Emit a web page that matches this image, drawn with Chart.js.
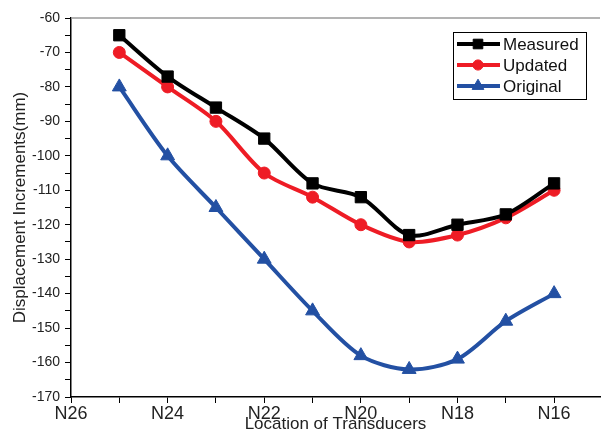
<!DOCTYPE html>
<html>
<head>
<meta charset="utf-8">
<script src="https://cdn.jsdelivr.net/npm/chart.js@4"></script>
<style>
  html, body { margin: 0; padding: 0; background: #fff; }
  #wrap { width: 609px; height: 433px; position: relative; }
</style>
</head>
<body>
<div id="wrap"><canvas id="c"></canvas></div>
<script>
// ---- data ----
const transducers = [25, 24, 23, 22, 21, 20, 19, 18, 17, 16];
const measured = [-65, -77, -86, -95, -108, -112, -123, -120, -117, -108];
const updated  = [-70, -80, -90, -105, -112, -120, -125, -123, -118, -110];
const original = [-80, -100, -115, -130, -145, -158, -162, -159, -148, -140];
const xTickValues = [26, 25, 24, 23, 22, 21, 20, 19, 18, 17, 16];
const xTickLabels = ['N26', 'N24', 'N22', 'N20', 'N18', 'N16'];
const yTickLabels = [-60, -70, -80, -90, -100, -110, -120, -130, -140, -150, -160, -170];
const seriesNames = ['Measured', 'Updated', 'Original'];

const pts = arr => transducers.map((x, i) => ({ x: x, y: arr[i] }));
const FONT = "'Liberation Sans', Arial, sans-serif";

const legendBox = {
  id: 'legendBox',
  afterDraw(chart) {
    const ctx = chart.ctx;
    const ca = chart.chartArea;
    ctx.save();
    // top frame line
    ctx.strokeStyle = '#9a9a9a';
    ctx.lineWidth = 1.5;
    ctx.beginPath();
    ctx.moveTo(ca.left, ca.top);
    ctx.lineTo(ca.right, ca.top);
    ctx.stroke();
    // legend box
    const bx = 453, by = 32, bw = 133, bh = 67;
    ctx.strokeStyle = '#000';
    ctx.lineWidth = 1;
    ctx.strokeRect(bx + 0.5, by + 0.5, bw, bh);
    chart.data.datasets.forEach((ds, i) => {
      const y = by + 12 + i * 21;
      ctx.strokeStyle = ds.borderColor;
      ctx.lineWidth = ds.borderWidth;
      ctx.beginPath();
      ctx.moveTo(bx + 4, y);
      ctx.lineTo(bx + 47, y);
      ctx.stroke();
      ctx.fillStyle = ds.pointBackgroundColor;
      ctx.strokeStyle = ds.pointBorderColor;
      ctx.lineWidth = 1;
      Chart.helpers.drawPoint(ctx, {
        pointStyle: ds.pointStyle, rotation: 0, radius: ds.pointRadius * 0.85, borderWidth: 1
      }, bx + 25, y);
      ctx.fillStyle = '#111';
      ctx.font = '17px ' + FONT;
      ctx.textBaseline = 'middle';
      ctx.textAlign = 'left';
      ctx.fillText(ds.label, bx + 50, y + 1);
    });
    ctx.restore();
  }
};

const mk = (label, arr, color, style, r) => ({
  label: label,
  data: pts(arr),
  borderColor: color,
  backgroundColor: color,
  pointBackgroundColor: color,
  pointBorderColor: color,
  borderWidth: 4,
  pointStyle: style,
  pointRadius: r,
  pointBorderWidth: 1,
  tension: 0.3,
  fill: false
});

new Chart(document.getElementById('c'), {
  type: 'line',
  data: {
    datasets: [
      mk(seriesNames[0], measured, '#000000', 'rect', 8),
      mk(seriesNames[1], updated, '#ee1c25', 'circle', 6),
      mk(seriesNames[2], original, '#2350a3', 'triangle', 8)
    ]
  },
  options: {
    responsive: true,
    maintainAspectRatio: false,
    animation: false,
    layout: { padding: { top: 18, right: 0, bottom: 0, left: 0 } },
    plugins: { legend: { display: false }, tooltip: { enabled: false } },
    scales: {
      x: {
        type: 'linear',
        reverse: true,
        min: 15.05,
        max: 26,
        afterFit(s) { s.height = 36; },
        afterBuildTicks(s) { s.ticks = xTickValues.map(v => ({ value: v })); },
        border: { color: '#000', width: 1.5 },
        grid: { display: true, drawOnChartArea: false, tickLength: 6, color: '#000', tickWidth: 1 },
        ticks: {
          autoSkip: false, maxRotation: 0, padding: 0,
          color: '#222',
          font: { family: FONT, size: 18 },
          callback: v => { const l = 'N' + v; return xTickLabels.includes(l) ? l : ''; }
        },
        title: {
          display: true, text: 'Location of Transducers', color: '#222',
          font: { family: FONT, size: 17 },
          padding: { top: 0, bottom: -2 }
        }
      },
      y: {
        type: 'linear',
        min: -170,
        max: -60,
        afterFit(s) { s.width = 71; },
        border: { color: '#000', width: 1.5 },
        grid: { display: true, drawOnChartArea: false, tickLength: 6, color: '#000', tickWidth: 1 },
        ticks: {
          stepSize: 5, autoSkip: false, padding: 5,
          color: '#222',
          font: { family: FONT, size: 14 },
          callback: v => yTickLabels.includes(v) ? String(v) : ''
        },
        title: {
          display: true, text: 'Displacement Increments(mm)', color: '#222',
          font: { family: FONT, size: 17 },
          padding: { top: 10, bottom: 0 }
        }
      }
    }
  },
  plugins: [legendBox]
});
</script>
</body>
</html>
